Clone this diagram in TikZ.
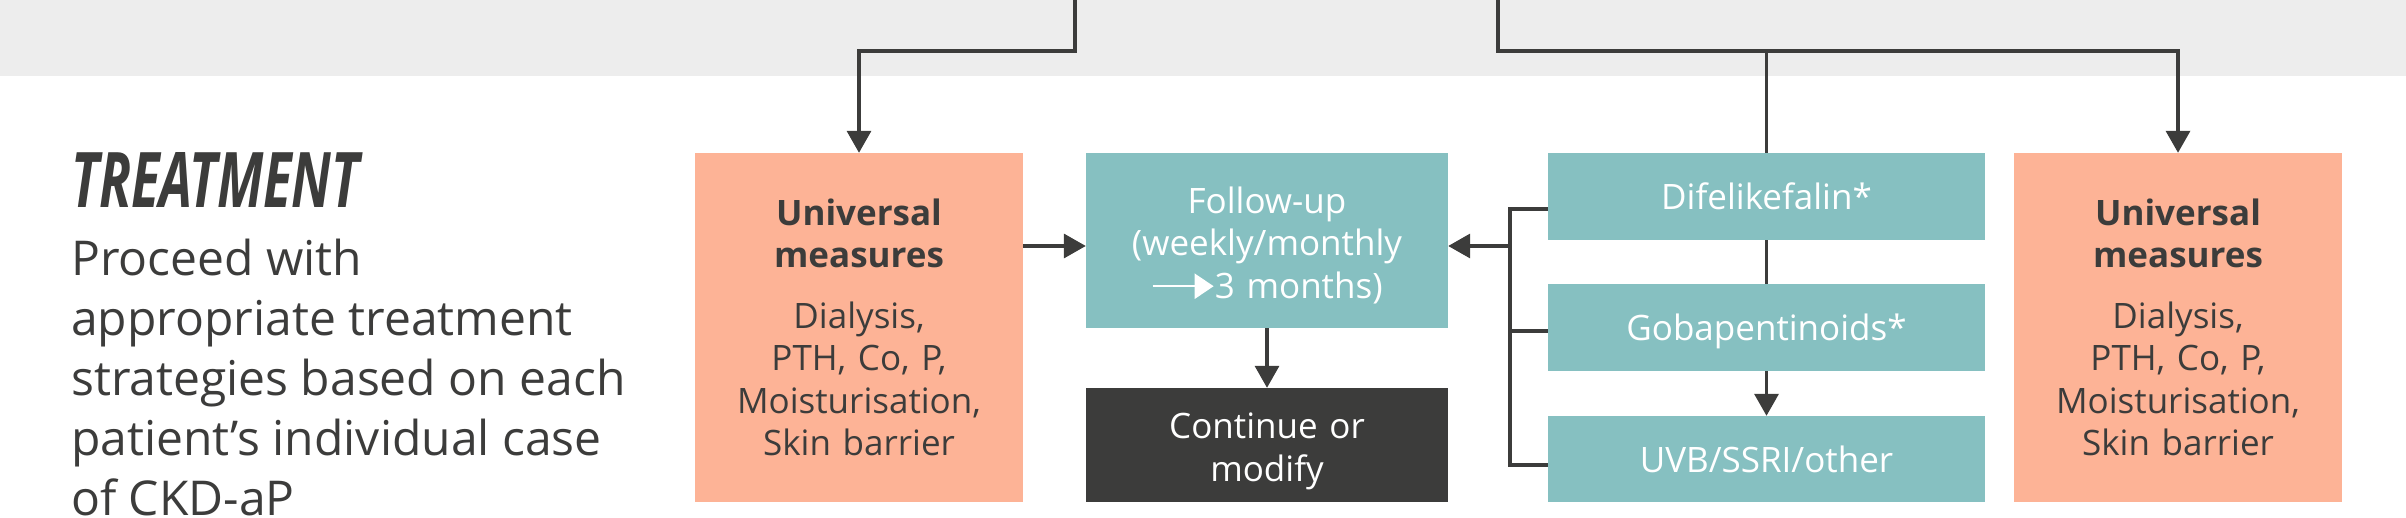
\documentclass[tikz,border=0pt]{standalone}
\usepackage{fontspec}
\setmainfont{Open Sans}[Ligatures=NoCommon]
\usepackage{xcolor}
\usetikzlibrary{arrows.meta}

\definecolor{inkgray}{HTML}{3C3C3B}
\definecolor{bandgray}{HTML}{EDEDED}
\definecolor{salmonfill}{HTML}{FDB396}
\definecolor{tealfill}{HTML}{86C0C1}

\newcommand{\followarrow}{\tikz[baseline=0pt]\draw[white, line width=2.5pt, -{Triangle[length=19pt,width=25pt]}] (0pt,12pt) -- (61pt,12pt);}

\tikzset{
  box/.style={rectangle, inner sep=0pt, align=center, font=\fontsize{35}{42.5}\selectfont},
  umbox/.style={box, fill=salmonfill, text=inkgray, minimum width=328pt, minimum height=349pt, text width=320pt},
  cyanbox/.style={box, fill=tealfill, text=white},
  optbox/.style={cyanbox, text depth=0pt, minimum width=437pt, minimum height=87pt},
  darkbox/.style={box, fill=inkgray, text=white},
  link/.style={line width=3.5pt, draw=inkgray},
  linkarrow/.style={link, -{Triangle[length=22pt,width=24pt]}}
}

\begin{document}
\begin{tikzpicture}[x=1pt, y=-1pt]
    \useasboundingbox (0,0) rectangle (2406,518);

    % Grey band at the top
    \fill[bandgray] (0,0) rectangle (2406,76);

    % Heading and intro text
    \node[anchor=base west, inner sep=0pt, text=inkgray] (title) at (71,208)
        {\resizebox{288pt}{55pt}{\bfseries\itshape TREATMENT}};
    \node[anchor=base west, inner sep=0pt, align=left, text=inkgray,
          font=\fontsize{48}{60}\selectfont] (intro) at (71,515)
        {Proceed with\\ appropriate treatment\\ strategies based on each\\ patient’s individual case\\ of CKD-aP};

    % Left column
    \node[umbox] (umL) at (859,327.5)
        {{\bfseries Universal\\ measures}\\[18pt] Dialysis,\\ PTH, Co, P,\\ Moisturisation,\\ Skin barrier};

    % Middle column
    \node[cyanbox, minimum width=362pt, minimum height=175pt, text width=350pt] (follow) at (1267,240.5)
        {\rule{0pt}{36pt}Follow-up\\ (weekly/monthly\\ \followarrow 3 months)};
    \node[darkbox, minimum width=362pt, minimum height=114pt, text width=350pt] (cont) at (1267,445)
        {\rule{0pt}{38pt}Continue or\\ modify};

    % Therapy options
    \node[optbox] (dif) at (1766.5,196.5) {Difelikefalin*};
    \node[optbox] (gob) at (1766.5,327.5) {Gobapentinoids*};
    \node[optbox, minimum height=86pt] (uvb) at (1766.5,459) {UVB/SSRI/other};

    % Right column
    \node[umbox] (umR) at (2178,327.5)
        {{\bfseries Universal\\ measures}\\[18pt] Dialysis,\\ PTH, Co, P,\\ Moisturisation,\\ Skin barrier};

    % Lines coming down from the band
    \coordinate (srcL) at (1075,0);
    \coordinate (elbowL) at (1075,51);
    \coordinate (srcR) at (1498,0);
    \coordinate (elbowR) at (1498,51);
    \draw[linkarrow] (srcL) -- (elbowL) -| (umL.north);
    \draw[linkarrow] (srcR) -- (elbowR) -| (umR.north);
    \draw[link] (dif.north) -- (dif.north |- elbowR);

    % Links between the boxes
    \coordinate (mid) at (0,246);
    \draw[linkarrow] (umL.east |- mid) -- (follow.west |- mid);
    \draw[linkarrow] (follow.south) -- (cont.north);
    \draw[link] (dif.south) -- (gob.north);
    \draw[linkarrow] (gob.south) -- (uvb.north);

    % Bracket from the therapy options
    \coordinate (bT) at (1510,209);
    \coordinate (bM) at (1510,331);
    \coordinate (bB) at (1510,465);
    \draw[link] (dif.west |- bT) -- (bT) -- (bB) -- (uvb.west |- bB);
    \draw[link] (gob.west |- bM) -- (bM);
    \draw[linkarrow] (bM |- mid) -- (follow.east |- mid);

\end{tikzpicture}
\end{document}
